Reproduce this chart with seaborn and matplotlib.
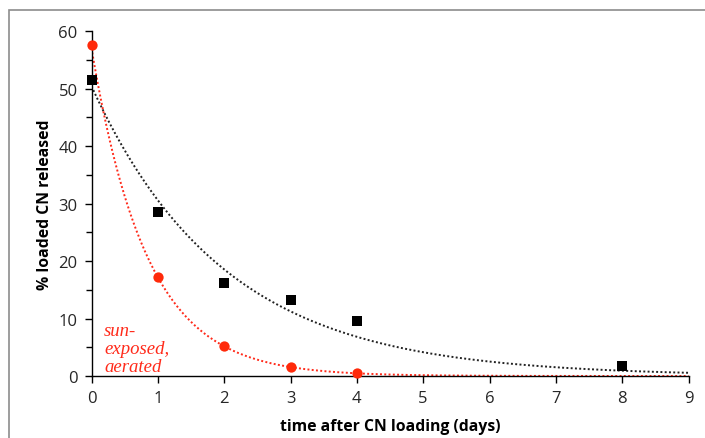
import numpy as np
import pandas as pd
import matplotlib
matplotlib.use("Agg")
import matplotlib.pyplot as plt
import seaborn as sns
from matplotlib.patches import Rectangle
from matplotlib.ticker import MultipleLocator

# Measured data
dark_days = [0, 1, 2, 3, 4, 8]
dark_pct = [51.5, 28.5, 16.2, 13.2, 9.5, 1.8]
sun_days = [0, 1, 2, 3, 4]
sun_pct = [57.5, 17.3, 5.3, 1.5, 0.5]

# Exponential trendline parameters (y = A * exp(-k t))
dark_fit_A, dark_fit_k = 50.4, 0.50
sun_fit_A, sun_fit_k = 57.0, 1.20

x_ticks = [0, 1, 2, 3, 4, 5, 6, 7, 8, 9]
y_ticks = [0, 10, 20, 30, 40, 50, 60]

sns.set_theme(style="white")
plt.rcParams['font.family'] = ['Open Sans', 'DejaVu Sans']

fig = plt.figure(figsize=(7.05, 4.39), dpi=100)
ax = fig.add_axes([0.1298, 0.1412, 0.8468, 0.7859])

# frame around the chart
fig.patches.append(Rectangle((9 / 705, -0.05), 1.0, 1 - 11 / 439 + 0.05,
                             transform=fig.transFigure, fill=False,
                             edgecolor="#8c8c8c", linewidth=1.2))

t = np.linspace(0, 9, 400)
dark_curve = pd.DataFrame({"t": t, "y": dark_fit_A * np.exp(-dark_fit_k * t)})
sun_curve = pd.DataFrame({"t": t, "y": sun_fit_A * np.exp(-sun_fit_k * t)})

sns.lineplot(data=dark_curve, x="t", y="y", ax=ax, color="#222222",
             linestyle=(0, (1, 1.2)), linewidth=1.4)
sns.lineplot(data=sun_curve, x="t", y="y", ax=ax, color="#ff2a1a",
             linestyle=(0, (1, 1.2)), linewidth=1.4)

dark_df = pd.DataFrame({"d": dark_days, "p": dark_pct})
sun_df = pd.DataFrame({"d": sun_days, "p": sun_pct})
sns.scatterplot(data=dark_df, x="d", y="p", ax=ax, marker="s", color="black",
                s=52, edgecolor="black", linewidth=0, zorder=5, clip_on=False)
sns.scatterplot(data=sun_df, x="d", y="p", ax=ax, marker="o", color="#ff2a0a",
                s=55, edgecolor="#ff2a0a", linewidth=0, zorder=5, clip_on=False)

ax.set_xlim(0, 9)
ax.set_ylim(0, 60)
ax.set_xticks(x_ticks)
ax.set_yticks(y_ticks)
ax.yaxis.set_minor_locator(MultipleLocator(5))

for side in ["top", "right"]:
    ax.spines[side].set_visible(False)
for side in ["left", "bottom"]:
    ax.spines[side].set_color("black")
    ax.spines[side].set_linewidth(1.0)

ax.tick_params(axis="both", which="major", direction="out", length=5, width=1,
               color="black", labelsize=12, labelcolor="#262626", pad=5,
               left=True, bottom=True)
ax.tick_params(axis="y", which="minor", direction="out", length=4, width=1,
               color="black", left=True)

ax.set_xlabel("time after CN loading (days)", fontsize=11.3, fontweight="bold",
              color="black", labelpad=9)
ax.set_ylabel("% loaded CN released", fontsize=11.3, fontweight="bold",
              color="black", labelpad=4)

ax.text(0.19, 0.1, "sun-\nexposed,\naerated", fontsize=13.5, color="#ff2a1a",
        style="italic", family=["Liberation Serif", "DejaVu Serif"],
        ha="left", va="bottom", linespacing=1.1)

fig.savefig("out.png", dpi=100)
